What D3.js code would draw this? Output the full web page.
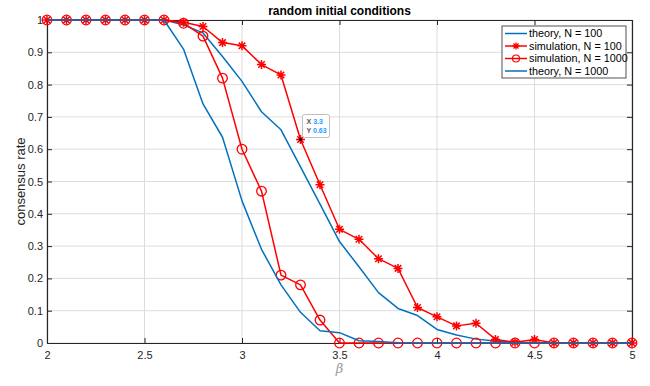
<!DOCTYPE html>
<html>
<head>
<meta charset="utf-8">
<script src="https://cdn.jsdelivr.net/npm/d3@7"></script>
<style>
  body { margin: 0; background: #fff; }
  svg { display: block; font-family: "Liberation Sans", Arial, sans-serif; }
</style>
</head>
<body>
<svg id="chart" width="650" height="386"></svg>
<script>
// beta = 2:0.1:5
const beta = d3.range(31).map(i => +(2 + i * 0.1).toFixed(1));

const theory100 = [1, 1, 1, 1, 1, 1, 1, 0.985, 0.96, 0.887, 0.81, 0.716, 0.66, 0.545, 0.43, 0.314,
  0.236, 0.156, 0.107, 0.085, 0.042, 0.025, 0.012, 0.006, 0.002, 0.001, 0, 0, 0, 0, 0];
const sim100 = [1, 1, 1, 1, 1, 1, 1, 0.993, 0.98, 0.93, 0.92, 0.862, 0.83, 0.63, 0.49, 0.352,
  0.321, 0.261, 0.231, 0.11, 0.081, 0.053, 0.061, 0.011, 0.002, 0.011, 0, 0, 0, 0, 0];
const sim1000 = [1, 1, 1, 1, 1, 1, 1, 0.99, 0.95, 0.82, 0.60, 0.47, 0.21, 0.18, 0.071, 0,
  0, 0, 0, 0, 0, 0, 0, 0, 0, 0, 0, 0, 0, 0, 0];
const theory1000 = [1, 1, 1, 1, 1, 1, 1, 0.91, 0.74, 0.637, 0.44, 0.29, 0.18, 0.095, 0.038, 0.032,
  0.007, 0.005, 0.001, 0, 0, 0, 0, 0, 0, 0, 0, 0, 0, 0, 0];

const xTicks = [2, 2.5, 3, 3.5, 4, 4.5, 5];
const yTicks = d3.range(11).map(i => +(i * 0.1).toFixed(1));

const series = [
  { name: "theory, N = 100", values: theory100, color: "#0072BD", marker: null },
  { name: "simulation, N = 100", values: sim100, color: "#FF0000", marker: "star" },
  { name: "simulation, N = 1000", values: sim1000, color: "#FF0000", marker: "circle" },
  { name: "theory, N = 1000", values: theory1000, color: "#0072BD", marker: null }
];

// data tip shown on the chart
const tip = { x: 3.3, y: 0.63 };

const svg = d3.select("#chart");
const pLeft = 47, pRight = 632, pTop = 20, pBottom = 343;

const x = d3.scaleLinear().domain([2, 5]).range([pLeft, pRight]);
const y = d3.scaleLinear().domain([0, 1]).range([pBottom, pTop]);

const axisColor = "#262626";

// grid
const grid = svg.append("g");
grid.selectAll(".gx").data(xTicks).join("line")
  .attr("x1", d => x(d)).attr("x2", d => x(d))
  .attr("y1", pTop).attr("y2", pBottom)
  .attr("stroke", "#dcdcdc").attr("stroke-width", 1);
grid.selectAll(".gy").data(yTicks).join("line")
  .attr("x1", pLeft).attr("x2", pRight)
  .attr("y1", d => y(d)).attr("y2", d => y(d))
  .attr("stroke", "#dcdcdc").attr("stroke-width", 1);

// axes (ticks inward, box)
const tickLen = 5;
const fmt = d => String(d);
const bottomAxis = svg.append("g")
  .attr("transform", "translate(0," + pBottom + ")")
  .call(d3.axisBottom(x).tickValues(xTicks).tickFormat(fmt).tickSizeInner(-tickLen).tickSizeOuter(0).tickPadding(8));
const leftAxis = svg.append("g")
  .attr("transform", "translate(" + pLeft + ",0)")
  .call(d3.axisLeft(y).tickValues(yTicks).tickFormat(fmt).tickSizeInner(-tickLen).tickSizeOuter(0).tickPadding(4));
const topAxis = svg.append("g")
  .attr("transform", "translate(0," + pTop + ")")
  .call(d3.axisTop(x).tickValues(xTicks).tickFormat("").tickSizeInner(-tickLen).tickSizeOuter(0));
const rightAxis = svg.append("g")
  .attr("transform", "translate(" + pRight + ",0)")
  .call(d3.axisRight(y).tickValues(yTicks).tickFormat("").tickSizeInner(-tickLen).tickSizeOuter(0));

[bottomAxis, leftAxis, topAxis, rightAxis].forEach(a => {
  a.select(".domain").attr("stroke", axisColor).attr("stroke-width", 1.2);
  a.selectAll(".tick line").attr("stroke", axisColor);
  a.selectAll("text").attr("fill", axisColor).attr("font-size", 11)
    .attr("font-family", "Liberation Sans, Arial, sans-serif");
});

// lines and markers
const line = d3.line()
  .x((d, i) => x(beta[i]))
  .y(d => y(d));

function starPath(cx, cy, r) {
  const d = r * 0.72;
  return "M" + (cx - r) + "," + cy + "L" + (cx + r) + "," + cy +
    "M" + cx + "," + (cy - r) + "L" + cx + "," + (cy + r) +
    "M" + (cx - d) + "," + (cy - d) + "L" + (cx + d) + "," + (cy + d) +
    "M" + (cx - d) + "," + (cy + d) + "L" + (cx + d) + "," + (cy - d);
}

const plot = svg.append("g");
series.forEach(s => {
  const g = plot.append("g");
  g.append("path")
    .datum(s.values)
    .attr("fill", "none")
    .attr("stroke", s.color)
    .attr("stroke-width", 1.5)
    .attr("stroke-linejoin", "round")
    .attr("d", line);
  if (s.marker === "star") {
    g.selectAll(".m").data(s.values).join("path")
      .attr("d", (d, i) => starPath(x(beta[i]), y(d), 4.5))
      .attr("stroke", s.color).attr("stroke-width", 1.5).attr("fill", "none");
  } else if (s.marker === "circle") {
    g.selectAll(".m").data(s.values).join("circle")
      .attr("cx", (d, i) => x(beta[i])).attr("cy", d => y(d))
      .attr("r", 4.8)
      .attr("stroke", s.color).attr("stroke-width", 1.3).attr("fill", "none");
  }
});

// data tip
const tipG = svg.append("g");
tipG.append("circle")
  .attr("cx", x(tip.x)).attr("cy", y(tip.y)).attr("r", 1.6)
  .attr("fill", "#000");
const tbx = x(tip.x) + 2, tby = y(tip.y) - 25;
tipG.append("rect")
  .attr("x", tbx).attr("y", tby).attr("width", 27).attr("height", 23)
  .attr("rx", 2)
  .attr("fill", "#fff").attr("stroke", "#bfbfbf").attr("stroke-width", 1);
const tipLines = [["X", tip.x], ["Y", tip.y]];
tipLines.forEach((t, i) => {
  const txt = tipG.append("text")
    .attr("x", tbx + 4).attr("y", tby + 9 + i * 9)
    .attr("font-size", 7).attr("font-weight", "bold");
  txt.append("tspan").attr("fill", "#555").text(t[0] + " ");
  txt.append("tspan").attr("fill", "#1f9bff").text(t[1]);
});

// title and labels
svg.append("text")
  .attr("x", (pLeft + pRight) / 2).attr("y", 15)
  .attr("text-anchor", "middle")
  .attr("font-size", 12).attr("font-weight", "bold")
  .attr("fill", "#000")
  .text("random initial conditions");

svg.append("text")
  .attr("x", (pLeft + pRight) / 2).attr("y", 373)
  .attr("text-anchor", "middle")
  .attr("font-size", 13).attr("font-style", "italic")
  .attr("font-family", "DejaVu Serif, serif")
  .attr("fill", "#999")
  .text("β");

svg.append("text")
  .attr("transform", "translate(25," + ((pTop + pBottom) / 2) + ") rotate(-90)")
  .attr("text-anchor", "middle")
  .attr("font-size", 13)
  .attr("fill", axisColor)
  .text("consensus rate");

// legend
const lg = svg.append("g");
const lx = 502, ly = 26, lw = 124, lh = 52;
lg.append("rect")
  .attr("x", lx).attr("y", ly).attr("width", lw).attr("height", lh)
  .attr("fill", "#fff").attr("stroke", "#262626").attr("stroke-width", 0.8);
series.forEach((s, i) => {
  const yy = ly + 7.5 + i * 12.5;
  lg.append("line")
    .attr("x1", lx + 3).attr("x2", lx + 25).attr("y1", yy).attr("y2", yy)
    .attr("stroke", s.color).attr("stroke-width", 1.5);
  if (s.marker === "star") {
    lg.append("path").attr("d", starPath(lx + 14, yy, 3.5))
      .attr("stroke", s.color).attr("stroke-width", 1.3).attr("fill", "none");
  } else if (s.marker === "circle") {
    lg.append("circle").attr("cx", lx + 14).attr("cy", yy).attr("r", 3.5)
      .attr("stroke", s.color).attr("stroke-width", 1.2).attr("fill", "none");
  }
  lg.append("text")
    .attr("x", lx + 27).attr("y", yy + 3.8)
    .attr("font-size", 10.8)
    .attr("fill", "#000")
    .text(s.name);
});
</script>
</body>
</html>
